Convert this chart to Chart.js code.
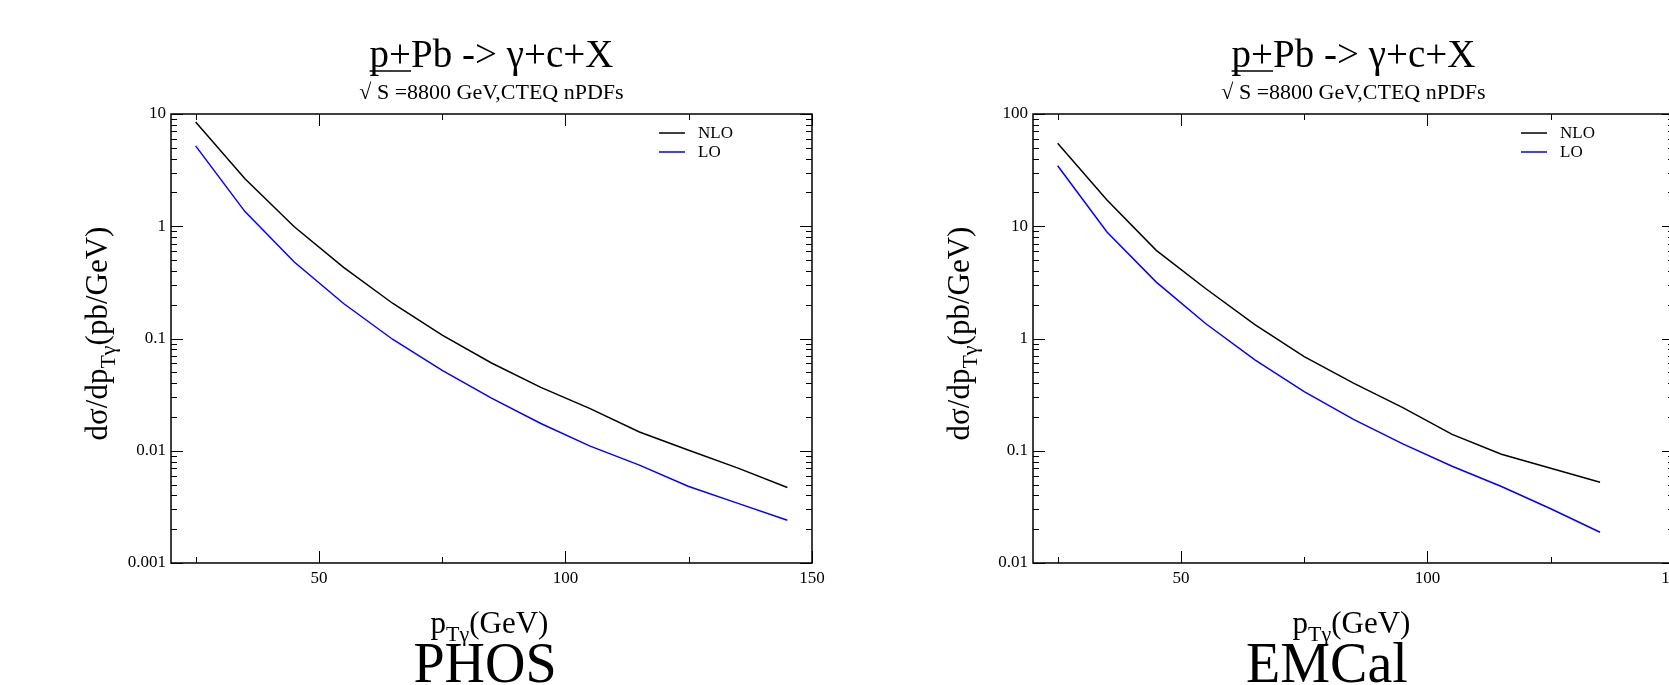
<!DOCTYPE html>
<html>
<head>
<meta charset="utf-8">
<script src="https://cdn.jsdelivr.net/npm/chart.js@4.4.1/dist/chart.umd.min.js"></script>
<style>
  body { margin: 0; background: #fff; overflow: hidden; }
  #wrap { position: relative; width: 1669px; height: 685px; overflow: hidden; background: #fff; }
  canvas { position: absolute; top: 0; }
  #phosChart { left: 0; }
  #emcalChart { left: 862px; }
</style>
</head>
<body>
<div id="wrap">
  <canvas id="phosChart" width="834" height="685"></canvas>
  <canvas id="emcalChart" width="834" height="685"></canvas>
</div>
<script>
// p+Pb -> gamma+c+X at sqrt(S) = 8800 GeV, CTEQ nPDFs

// PHOS
const ptPhos = [25, 35, 45, 55, 65, 75, 85, 95, 105, 115, 125, 135, 145];
const nloPhos = [8.5, 2.65, 0.99, 0.43, 0.205, 0.107, 0.0605, 0.0367, 0.0237, 0.0147, 0.0101, 0.0070, 0.0047];
const loPhos = [5.2, 1.35, 0.48, 0.205, 0.098, 0.052, 0.0294, 0.0175, 0.011, 0.00745, 0.0048, 0.0034, 0.0024];

// EMCal
const ptEmcal = [25, 35, 45, 55, 65, 75, 85, 95, 105, 115, 125, 135];
const nloEmcal = [55, 17.1, 6.1, 2.79, 1.33, 0.69, 0.40, 0.242, 0.14, 0.093, 0.0698, 0.0525];
const loEmcal = [34.6, 8.9, 3.18, 1.36, 0.645, 0.336, 0.19, 0.115, 0.0728, 0.048, 0.0304, 0.0188];

// axes
const xTicks = [25, 50, 75, 100, 125, 150];
const xTickLabels = [50, 100, 150];
const yDecadesPhos = [0.001, 0.01, 0.1, 1, 10];
const yDecadesEmcal = [0.01, 0.1, 1, 10, 100];

const seriesNames = ["NLO", "LO"];
const seriesColors = ["#000000", "#0000ff"];

const FONT = "'Liberation Serif', 'Times New Roman', serif";

// 1..9 in every decade
function logTicks(decades) {
  const out = [];
  decades.forEach((d, i) => {
    if (i === decades.length - 1) { out.push(d); return; }
    for (let k = 1; k < 10; k++) out.push(+(d * k).toPrecision(3));
  });
  return out;
}

// text made of pieces, some of them subscripts
function drawParts(ctx, parts, x, y) {
  let w = 0;
  parts.forEach(p => { ctx.font = p.size + "px " + FONT; w += ctx.measureText(p.t).width; });
  let cx = x - w / 2;
  ctx.textAlign = "left";
  ctx.textBaseline = "alphabetic";
  parts.forEach(p => {
    ctx.font = p.size + "px " + FONT;
    ctx.fillText(p.t, cx, y + (p.dy || 0));
    cx += ctx.measureText(p.t).width;
  });
}

const decorPlugin = {
  id: "decor",
  afterDraw(chart, args, opts) {
    const ctx = chart.ctx;
    const a = chart.chartArea;
    const xs = chart.scales.x, ys = chart.scales.y;
    ctx.save();
    ctx.strokeStyle = "#000";
    ctx.fillStyle = "#000";

    // frame
    ctx.lineWidth = 1.5;
    ctx.strokeRect(a.left, a.top, a.right - a.left, a.bottom - a.top);

    // inward ticks on all four sides
    ctx.lineWidth = 1;
    ctx.beginPath();
    xs.ticks.forEach(t => {
      const px = Math.round(xs.getPixelForValue(t.value)) + 0.5;
      const len = xTickLabels.includes(t.value) ? 12 : 6;
      ctx.moveTo(px, a.bottom); ctx.lineTo(px, a.bottom - len);
      ctx.moveTo(px, a.top); ctx.lineTo(px, a.top + len);
    });
    ys.ticks.forEach(t => {
      const py = Math.round(ys.getPixelForValue(t.value)) + 0.5;
      const len = opts.decades.includes(t.value) ? 12 : 6;
      ctx.moveTo(a.left, py); ctx.lineTo(a.left + len, py);
      ctx.moveTo(a.right, py); ctx.lineTo(a.right - len, py);
    });
    ctx.stroke();

    const cx = (a.left + a.right) / 2;

    // title
    ctx.font = "39px " + FONT;
    ctx.textAlign = "left";
    ctx.textBaseline = "alphabetic";
    const title = "p+Pb -> γ+c+X";
    const tw = ctx.measureText(title).width;
    const tx = cx - tw / 2;
    ctx.fillText(title, tx, 67);
    ctx.lineWidth = 1.5;
    ctx.beginPath();
    ctx.moveTo(tx, 71);
    ctx.lineTo(tx + ctx.measureText("p+").width, 71);
    ctx.stroke();

    ctx.font = "22px " + FONT;
    ctx.textAlign = "center";
    ctx.fillText("√ S =8800 GeV,CTEQ nPDFs", cx, 99);

    // axis titles
    drawParts(ctx, [
      { t: "p", size: 31 },
      { t: "Tγ", size: 22, dy: 8 },
      { t: "(GeV)", size: 31 }
    ], cx - 2, 633);

    ctx.save();
    ctx.translate(107, (a.top + a.bottom) / 2 - 5);
    ctx.rotate(-Math.PI / 2);
    drawParts(ctx, [
      { t: "dσ/dp", size: 31 },
      { t: "Tγ", size: 22, dy: 8 },
      { t: "(pb/GeV)", size: 31 }
    ], 0, 0);
    ctx.restore();

    // legend
    ctx.font = "17px " + FONT;
    ctx.textAlign = "left";
    ctx.textBaseline = "middle";
    chart.data.datasets.forEach((ds, i) => {
      const ly = 133 + i * 19;
      ctx.strokeStyle = ds.borderColor;
      ctx.lineWidth = 1.5;
      ctx.beginPath();
      ctx.moveTo(659, ly); ctx.lineTo(685, ly);
      ctx.stroke();
      ctx.fillText(ds.label, 698, ly + 1);
    });

    // detector name
    ctx.font = "56px " + FONT;
    ctx.textAlign = "center";
    ctx.textBaseline = "alphabetic";
    ctx.fillText(opts.name, opts.nameX, 682);

    ctx.restore();
  }
};

function makeChart(id, pt, nlo, lo, decades, name, nameX) {
  const yTicks = logTicks(decades);
  return new Chart(document.getElementById(id), {
    type: "line",
    data: {
      datasets: [
        { label: seriesNames[0], data: pt.map((x, i) => ({ x: x, y: nlo[i] })), borderColor: seriesColors[0] },
        { label: seriesNames[1], data: pt.map((x, i) => ({ x: x, y: lo[i] })), borderColor: seriesColors[1] }
      ]
    },
    options: {
      responsive: false,
      animation: false,
      devicePixelRatio: 1,
      elements: {
        point: { radius: 0 },
        line: { borderWidth: 1.5, tension: 0, fill: false }
      },
      layout: { padding: { left: 0, top: 114, right: 22, bottom: 0 } },
      scales: {
        x: {
          type: "linear",
          min: 20,
          max: 150,
          grid: { display: false, drawTicks: false },
          border: { display: false },
          afterBuildTicks: s => { s.ticks = xTicks.map(v => ({ value: v })); },
          afterFit: s => { s.height = 122; },
          ticks: {
            autoSkip: false,
            maxRotation: 0,
            padding: 5,
            color: "#000",
            font: { family: FONT, size: 17 },
            callback: v => (xTickLabels.includes(v) ? String(v) : "")
          }
        },
        y: {
          type: "logarithmic",
          min: decades[0],
          max: decades[decades.length - 1],
          grid: { display: false, drawTicks: false },
          border: { display: false },
          afterBuildTicks: s => { s.ticks = yTicks.map(v => ({ value: v })); },
          afterFit: s => { s.width = 171; },
          ticks: {
            autoSkip: false,
            padding: 5,
            color: "#000",
            font: { family: FONT, size: 17 },
            callback: v => (decades.includes(v) ? String(v) : "")
          }
        }
      },
      plugins: {
        legend: { display: false },
        tooltip: { enabled: false },
        decor: { decades: decades, name: name, nameX: nameX }
      }
    },
    plugins: [decorPlugin]
  });
}

makeChart("phosChart", ptPhos, nloPhos, loPhos, yDecadesPhos, "PHOS", 485);
makeChart("emcalChart", ptEmcal, nloEmcal, loEmcal, yDecadesEmcal, "EMCal", 465);
</script>
</body>
</html>
